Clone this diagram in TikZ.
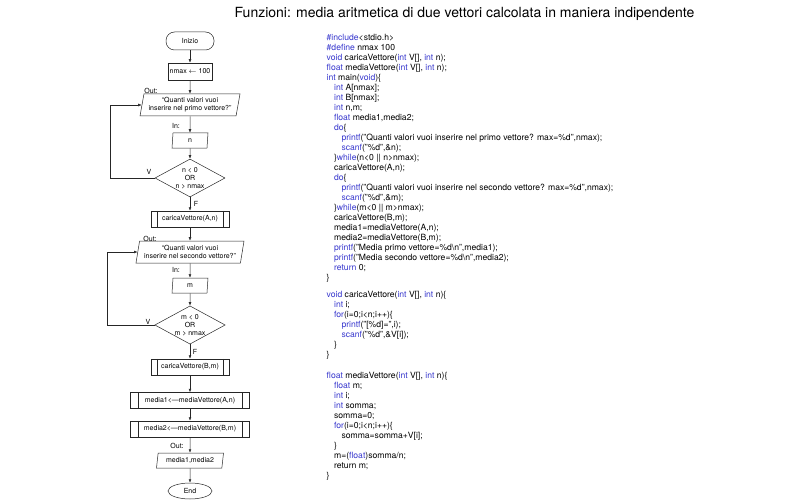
\documentclass[tikz,border=0pt]{standalone}
\usepackage{fontspec}
\setmainfont{TeX Gyre Heros}
\usetikzlibrary{shapes.geometric,arrows.meta}

\definecolor{kwBlue}{RGB}{55,55,205}
\newcommand{\kw}[1]{\textcolor{kwBlue}{#1}}
\newcommand{\indA}{\hspace*{7.4pt}}
\newcommand{\indB}{\hspace*{14.8pt}}

\tikzset{
  fcLine/.style={draw=black!85, line width=0.5pt},
  arr/.style={fcLine, -{Latex[length=3.5pt,width=2.8pt]}},
  term/.style={fcLine, rectangle, rounded corners=8.5pt, minimum width=48pt, minimum height=18pt, inner sep=0pt},
  termEnd/.style={fcLine, ellipse, minimum width=44pt, minimum height=16pt, inner sep=0pt},
  proc/.style={fcLine, rectangle, inner sep=0pt},
  io/.style={fcLine, trapezium, trapezium left angle=75, trapezium right angle=105, trapezium stretches body=true, inner sep=0pt, align=center},
  dec/.style={fcLine, diamond, aspect=1.84, minimum width=70pt, minimum height=38pt, inner sep=0pt, align=center, font=\fontsize{7}{8}\selectfont},
  sub/.style={fcLine, rectangle, minimum width=78pt, minimum height=16pt, inner sep=0pt},
  lbl/.style={inner sep=0pt},
  code/.style={anchor=base west, align=left, inner sep=0pt, font=\fontsize{8.6}{10}\selectfont}
}

\begin{document}
\begin{tikzpicture}[x=1pt, y=-1pt, font=\fontsize{7}{8}\selectfont]
    \useasboundingbox (0,0) rectangle (800,500);
    \def\cx{190} % axis of the flowchart
    \def\subInset{6.5} % inner lines of the sub-program boxes
    \def\codeX{326.5} % left margin of the listing

    %%% title %%%
    \node[font=\fontsize{14}{16}\selectfont, anchor=base, inner sep=0pt] (title) at (464.5,17.5) {Funzioni: media aritmetica di due vettori calcolata in maniera indipendente};

    %%% flowchart %%%
    \node[term] (start) at (\cx,41) {Inizio};
    \node[proc, minimum width=44pt, minimum height=17pt] (init) at (\cx,71.5) {nmax \ensuremath{\leftarrow} 100};
    \node[io, minimum width=100pt, minimum height=22pt] (outA) at (\cx,105) {“Quanti valori vuoi\\inserire nel primo vettore?”};
    \node[io, minimum width=36pt, minimum height=15pt] (inN) at (\cx,140.5) {n};
    \node[dec] (testN) at (\cx,178) {n < 0\\OR\\n > nmax};
    \node[sub] (loadA) at (\cx,219) {caricaVettore(A,n)};
    \node[io, minimum width=108pt, minimum height=22pt] (outB) at (\cx,252) {“Quanti valori vuoi\\inserire nel secondo vettore?”};
    \node[io, minimum width=36pt, minimum height=15pt] (inM) at (\cx,285.5) {m};
    \node[dec] (testM) at (\cx,325) {m < 0\\OR\\m > nmax};
    \node[sub] (loadB) at (\cx,367) {caricaVettore(B,m)};
    \node[sub, minimum width=119pt] (avgA) at (\cx,400.5) {media1<—mediaVettore(A,n)};
    \node[sub, minimum width=119pt] (avgB) at (\cx,429) {media2<—mediaVettore(B,m)};
    \node[io, minimum width=67pt, minimum height=15pt] (outC) at (\cx,460.5) {media1,media2};
    \node[termEnd] (stop) at (\cx,491) {End};

    % double sides of the sub-program boxes
    \foreach \b in {loadA,loadB}
        \draw[fcLine] ([xshift=\subInset pt]\b.north west) -- ([xshift=\subInset pt]\b.south west)
                      ([xshift=-\subInset pt]\b.north east) -- ([xshift=-\subInset pt]\b.south east);
    \foreach \b in {avgA,avgB}
        \draw[fcLine] ([xshift=8pt]\b.north west) -- ([xshift=8pt]\b.south west)
                      ([xshift=-8pt]\b.north east) -- ([xshift=-8pt]\b.south east);

    % main flow
    \foreach \a/\b in {start/init, init/outA, outA/inN, inN/testN, testN/loadA, loadA/outB, outB/inM, inM/testM, testM/loadB, loadB/avgA, avgA/avgB, avgB/outC, outC/stop}
        \draw[arr] (\a) -- (\b);

    % loops back on a wrong input
    \coordinate (backN) at (110,0);
    \coordinate (backM) at (107,0);
    \draw[arr] (testN.west) -- (testN.west -| backN) |- (outA);
    \draw[arr] (testM.west) -- (testM.west -| backM) |- (outB);

    % labels
    \node[lbl] (outLblA) at (151,91) {Out:};
    \node[lbl] (inLblN) at (176,126) {In:};
    \node[lbl] (vLblN) at (149,172) {V};
    \node[lbl] (fLblN) at (196,204) {F};
    \node[lbl] (outLblB) at (150,239) {Out:};
    \node[lbl] (inLblM) at (176,270) {In:};
    \node[lbl] (vLblM) at (148,322) {V};
    \node[lbl] (fLblM) at (195,352) {F};
    \node[lbl] (outLblC) at (177,446) {Out:};

    %%% C source %%%
    % base anchor of a listing = baseline of its last line
    \node[code] (mainCode) at (\codeX,280.5) {%
        \kw{\#include}<stdio.h>\\
        \kw{\#define} nmax 100\\
        \kw{void} caricaVettore(\kw{int} V[], \kw{int} n);\\
        \kw{float} mediaVettore(\kw{int} V[], \kw{int} n);\\
        \kw{int} main(\kw{void})\{\\
        \indA\kw{int} A[nmax];\\
        \indA\kw{int} B[nmax];\\
        \indA\kw{int} n,m;\\
        \indA\kw{float} media1,media2;\\
        \indA\kw{do}\{\\
        \indB\kw{printf}("Quanti valori vuoi inserire nel primo vettore? max=\%d",nmax);\\
        \indB\kw{scanf}("\%d",\&n);\\
        \indA\}\kw{while}(n<0 || n>nmax);\\
        \indA caricaVettore(A,n);\\
        \indA\kw{do}\{\\
        \indB\kw{printf}("Quanti valori vuoi inserire nel secondo vettore? max=\%d",nmax);\\
        \indB\kw{scanf}("\%d",\&m);\\
        \indA\}\kw{while}(m<0 || m>nmax);\\
        \indA caricaVettore(B,m);\\
        \indA media1=mediaVettore(A,n);\\
        \indA media2=mediaVettore(B,m);\\
        \indA\kw{printf}("Media primo vettore=\%d\textbackslash n",media1);\\
        \indA\kw{printf}("Media secondo vettore=\%d\textbackslash n",media2);\\
        \indA\kw{return} 0;\\
        \}};
    \node[code] (loadCode) at (\codeX,357.5) {%
        \kw{void} caricaVettore(\kw{int} V[], \kw{int} n)\{\\
        \indA\kw{int} i;\\
        \indA\kw{for}(i=0;i<n;i++)\{\\
        \indB\kw{printf}("[\%d]=",i);\\
        \indB\kw{scanf}("\%d",\&V[i]);\\
        \indA\}\\
        \}};
    \node[code] (avgCode) at (\codeX,478) {%
        \kw{float} mediaVettore(\kw{int} V[], \kw{int} n)\{\\
        \indA\kw{float} m;\\
        \indA\kw{int} i;\\
        \indA\kw{int} somma;\\
        \indA somma=0;\\
        \indA\kw{for}(i=0;i<n;i++)\{\\
        \indB somma=somma+V[i];\\
        \indA\}\\
        \indA m=(\kw{float})somma/n;\\
        \indA return m;\\
        \}};
\end{tikzpicture}
\end{document}
